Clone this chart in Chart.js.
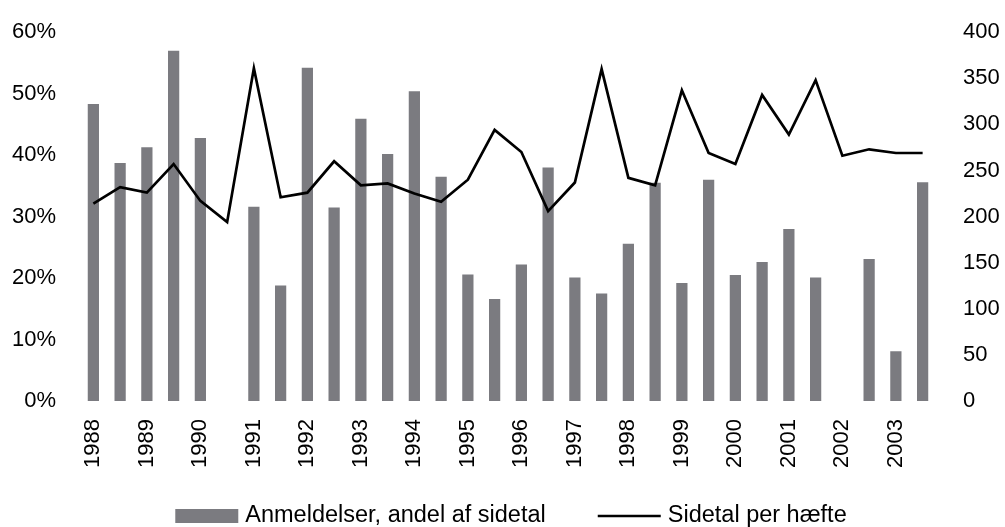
<!DOCTYPE html>
<html>
<head>
<meta charset="utf-8">
<script src="https://cdn.jsdelivr.net/npm/chart.js@4"></script>
<style>
  html, body { margin: 0; padding: 0; background: #fff; }
  #wrap { width: 1005px; height: 527px; }
</style>
</head>
<body>
<div id="wrap"><canvas id="js-chart"></canvas></div>
<script>
// one label per year, two periods per year
var years = ['1988', '1989', '1990', '1991', '1992', '1993', '1994', '1995',
  '1996', '1997', '1998', '1999', '2000', '2001', '2002', '2003'];

// Anmeldelser, andel af sidetal (%)
var reviewShare = [48.3, 38.7, 41.3, 57.0, 42.8, null, 31.6, 18.8, 54.2, 31.5,
  45.9, 40.2, 50.4, 36.5, 20.6, 16.6, 22.2, 38.0, 20.1, 17.5, 25.6, 35.5,
  19.2, 36.0, 20.5, 22.6, 28.0, 20.1, null, 23.1, 8.1, 35.6];

// Sidetal per hæfte
var pagesPerIssue = [214, 232, 226, 257, 217, 194, 361, 221, 226, 260, 234,
  236, 225, 216, 240, 294, 270, 206, 237, 360, 242, 234, 337, 269, 257, 332,
  289, 348, 266, 273, 269, 269];

var legendLabels = ['Anmeldelser, andel af sidetal', 'Sidetal per hæfte'];

var labels = [];
years.forEach(y => { labels.push(y); labels.push(''); });

var fontFamily = '"Liberation Sans", Arial, sans-serif';
var barColor = '#7b7b80';

// simple legend drawn under the x axis
var bottomLegend = {
  id: 'bottomLegend',
  afterDraw(chart) {
    var ctx = chart.ctx;
    var area = chart.chartArea;
    var sample = 63, gapText = 7, gapItem = 52;
    ctx.save();
    ctx.font = '23.5px ' + fontFamily;
    var w1 = ctx.measureText(legendLabels[0]).width;
    var w2 = ctx.measureText(legendLabels[1]).width;
    var total = sample + gapText + w1 + gapItem + sample + gapText + w2;
    var x = (area.left + area.right) / 2 + 3 - total / 2;
    var y = 516;
    ctx.fillStyle = barColor;
    ctx.fillRect(x, y - 7, sample, 14);
    ctx.fillStyle = '#000';
    ctx.textBaseline = 'middle';
    ctx.fillText(legendLabels[0], x + sample + gapText, y);
    x += sample + gapText + w1 + gapItem;
    ctx.strokeStyle = '#000';
    ctx.lineWidth = 2.5;
    ctx.beginPath();
    ctx.moveTo(x, y);
    ctx.lineTo(x + sample, y);
    ctx.stroke();
    ctx.fillText(legendLabels[1], x + sample + gapText, y);
    ctx.restore();
  }
};

var chartData = {
  labels: labels,
  datasets: [{
    type: 'line',
    label: legendLabels[1],
    data: pagesPerIssue,
    yAxisID: 'y1',
    borderColor: '#000',
    borderWidth: 2.7,
    pointRadius: 0,
    tension: 0,
    fill: false,
    order: 0
  },
  {
    type: 'bar',
    label: legendLabels[0],
    data: reviewShare,
    yAxisID: 'y',
    backgroundColor: barColor,
    categoryPercentage: 1,
    barPercentage: 0.42,
    order: 1
  }]
};

var tickFont = { family: fontFamily, size: 22 };

var chartOptions = {
  responsive: true,
  maintainAspectRatio: false,
  animation: false,
  layout: { padding: { top: 20, bottom: 0, left: 0, right: 0 } },
  plugins: {
    legend: { display: false },
    tooltip: { enabled: false }
  },
  scales: {
    x: {
      grid: { display: false },
      border: { display: false },
      ticks: {
        autoSkip: false,
        maxRotation: 90,
        minRotation: 90,
        padding: 10,
        color: '#000',
        font: tickFont
      },
      afterFit: scale => { scale.height = 126; }
    },
    y: {
      position: 'left',
      min: 0,
      max: 60,
      grid: { display: false },
      border: { display: false },
      ticks: {
        stepSize: 10,
        padding: 16,
        color: '#000',
        font: tickFont,
        callback: v => v + '%'
      },
      afterFit: scale => { scale.width = 80; }
    },
    y1: {
      position: 'right',
      min: 0,
      max: 400,
      grid: { display: false },
      border: { display: false },
      ticks: {
        stepSize: 50,
        padding: 19,
        color: '#000',
        font: tickFont
      },
      afterFit: scale => { scale.width = 69; }
    }
  }
};

new Chart(document.getElementById('js-chart').getContext('2d'), {
  data: chartData,
  options: chartOptions,
  plugins: [bottomLegend]
});
</script>
</body>
</html>
